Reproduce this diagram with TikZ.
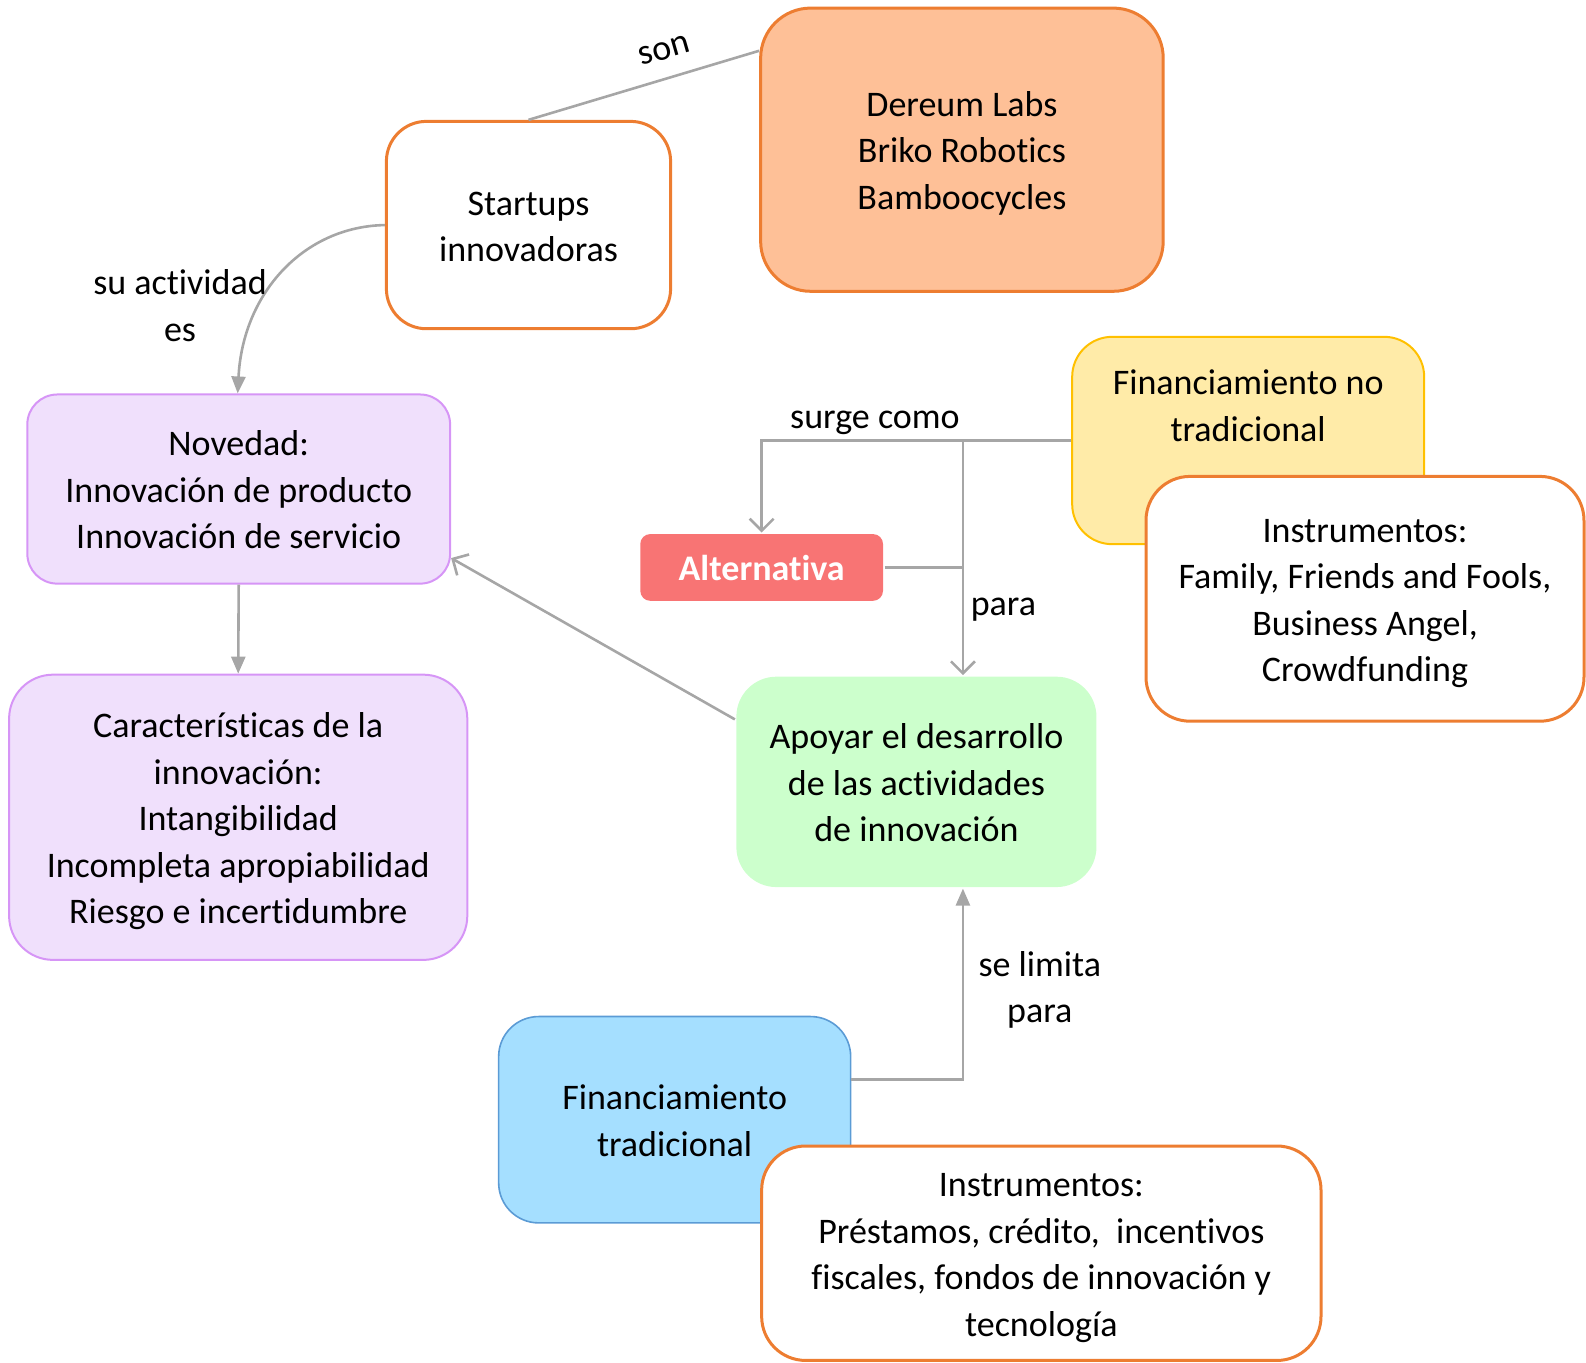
\documentclass[tikz,border=0pt]{standalone}
\usepackage{fontspec}
\setmainfont{Carlito}[Ligatures={NoCommon}]
\usetikzlibrary{arrows.meta,calc}

\definecolor{linegray}{HTML}{A6A6A6}
\definecolor{orangeline}{HTML}{ED7D31}
\definecolor{peach}{HTML}{FEC097}
\definecolor{lavfill}{HTML}{F0E0FC}
\definecolor{lavline}{HTML}{D695F6}
\definecolor{yelfill}{HTML}{FFEBA8}
\definecolor{yelline}{HTML}{FFC000}
\definecolor{greenfill}{HTML}{CCFFCC}
\definecolor{bluefill}{HTML}{A5DFFF}
\definecolor{blueline}{HTML}{5B9BD5}
\definecolor{redfill}{HTML}{F87474}

\newcommand{\pxu}{0.50574pt}
% centred lines, set a little lower than the node's own centre
\newcommand{\tx}[1]{\raisebox{-2pt}[\height][\depth]{\begin{tabular}{@{}c@{}}#1\end{tabular}}}

\tikzset{
  txt/.style={font=\fontsize{18}{23.26}\selectfont, align=center, text=black, inner sep=0pt},
  box/.style={txt, rounded corners=#1, line width=1.5pt},
  box/.default=20pt,
  conn/.style={draw=linegray, line width=1.3pt},
  openhead/.style={-{Straight Barb[length=6pt,width=12pt,line width=1.3pt]}},
  fillhead/.style={-{Triangle[length=8.5pt,width=7pt]}},
}

\begin{document}
\begin{tikzpicture}[x=0.50574pt,y=-0.50574pt]
\useasboundingbox (0,0) rectangle (1568,1347);

% ---- nodes ----
\node[box=25pt, draw=orangeline, fill=peach, minimum width=398*\pxu, minimum height=280*\pxu]
  (der) at (951,148) {\tx{Dereum Labs\\Briko Robotics\\Bamboocycles}};

\node[box=20pt, draw=orangeline, fill=white, minimum width=281*\pxu, minimum height=205*\pxu]
  (st) at (522.5,222.5) {\tx{Startups\\innovadoras}};

\node[box=15pt, draw=lavline, fill=lavfill, line width=1pt, minimum width=418*\pxu, minimum height=187*\pxu]
  (nov) at (236,483.5) {\tx{Novedad:\\Innovación de producto\\Innovación de servicio}};

\node[box=22pt, draw=lavline, fill=lavfill, line width=1pt, minimum width=453*\pxu, minimum height=282*\pxu]
  (car) at (235.5,808) {\tx{Características de la\\innovación:\\Intangibilidad\\Incompleta apropiabilidad\\Riesgo e incertidumbre}};

\node[box=20pt, draw=yelline, fill=yelfill, line width=1pt, minimum width=348*\pxu, minimum height=205*\pxu]
  (fnt) at (1234,435.5) {};
\node[txt] (fnttext) at (1234,400) {\tx{Financiamiento no\\tradicional}};

\node[box=22pt, draw=orangeline, fill=white, minimum width=433*\pxu, minimum height=242*\pxu]
  (insa) at (1349.5,592) {\tx{Instrumentos:\\Family, Friends and Fools,\\Business Angel,\\Crowdfunding}};

\node[box=5pt, fill=redfill, text=white, font=\fontsize{18}{23.26}\selectfont\bfseries,
      minimum width=240*\pxu, minimum height=66*\pxu]
  (alt) at (753,561) {\tx{Alternativa}};

\node[box=20pt, fill=greenfill, minimum width=356*\pxu, minimum height=208*\pxu]
  (apo) at (906,773) {\tx{Apoyar el desarrollo\\de las actividades\\de innovación}};

\node[box=20pt, draw=blueline, fill=bluefill, line width=0.8pt, minimum width=348*\pxu, minimum height=204*\pxu]
  (ft) at (667,1107) {\tx{Financiamiento\\tradicional}};

\node[box=22pt, draw=orangeline, fill=white, minimum width=553*\pxu, minimum height=212*\pxu]
  (insb) at (1029.5,1239) {\tx{Instrumentos:\\Préstamos, crédito,\ \ incentivos\\fiscales, fondos de innovación y\\tecnología}};

% ---- connectors ----
\draw[conn] (st.north) -- (der.154);
\node[txt, rotate=16] (lson) at (657,50) {son};

\draw[conn, fillhead] (st.west) .. controls (300,224) and (240,290) .. (nov.north -| 235,0);
\node[txt] (lact) at (178,301) {\tx{su actividad\\es}};

\draw[conn, fillhead] (nov.south) -- (car.north);

\draw[conn, openhead] (apo.161) -- (nov.-18);

\coordinate (jt) at (952,435.5);
\draw[conn, openhead] (fnt.west) -- (alt.north |- fnt.west) -- (alt.north);
\draw[conn, openhead] (jt) -- (jt |- apo.north);
\draw[conn] (alt.east) -- (alt.east -| jt);
\node[txt] (lsur) at (865,410) {\tx{surge como}};
\node[txt] (lpar) at (992,595) {\tx{para}};

\coordinate (jb) at (952,1067);
\draw[conn, fillhead] (ft.east |- jb) -- (jb) -- (jb |- apo.south);
\node[txt] (llim) at (1028,975) {\tx{se limita\\para}};

\end{tikzpicture}
\end{document}
